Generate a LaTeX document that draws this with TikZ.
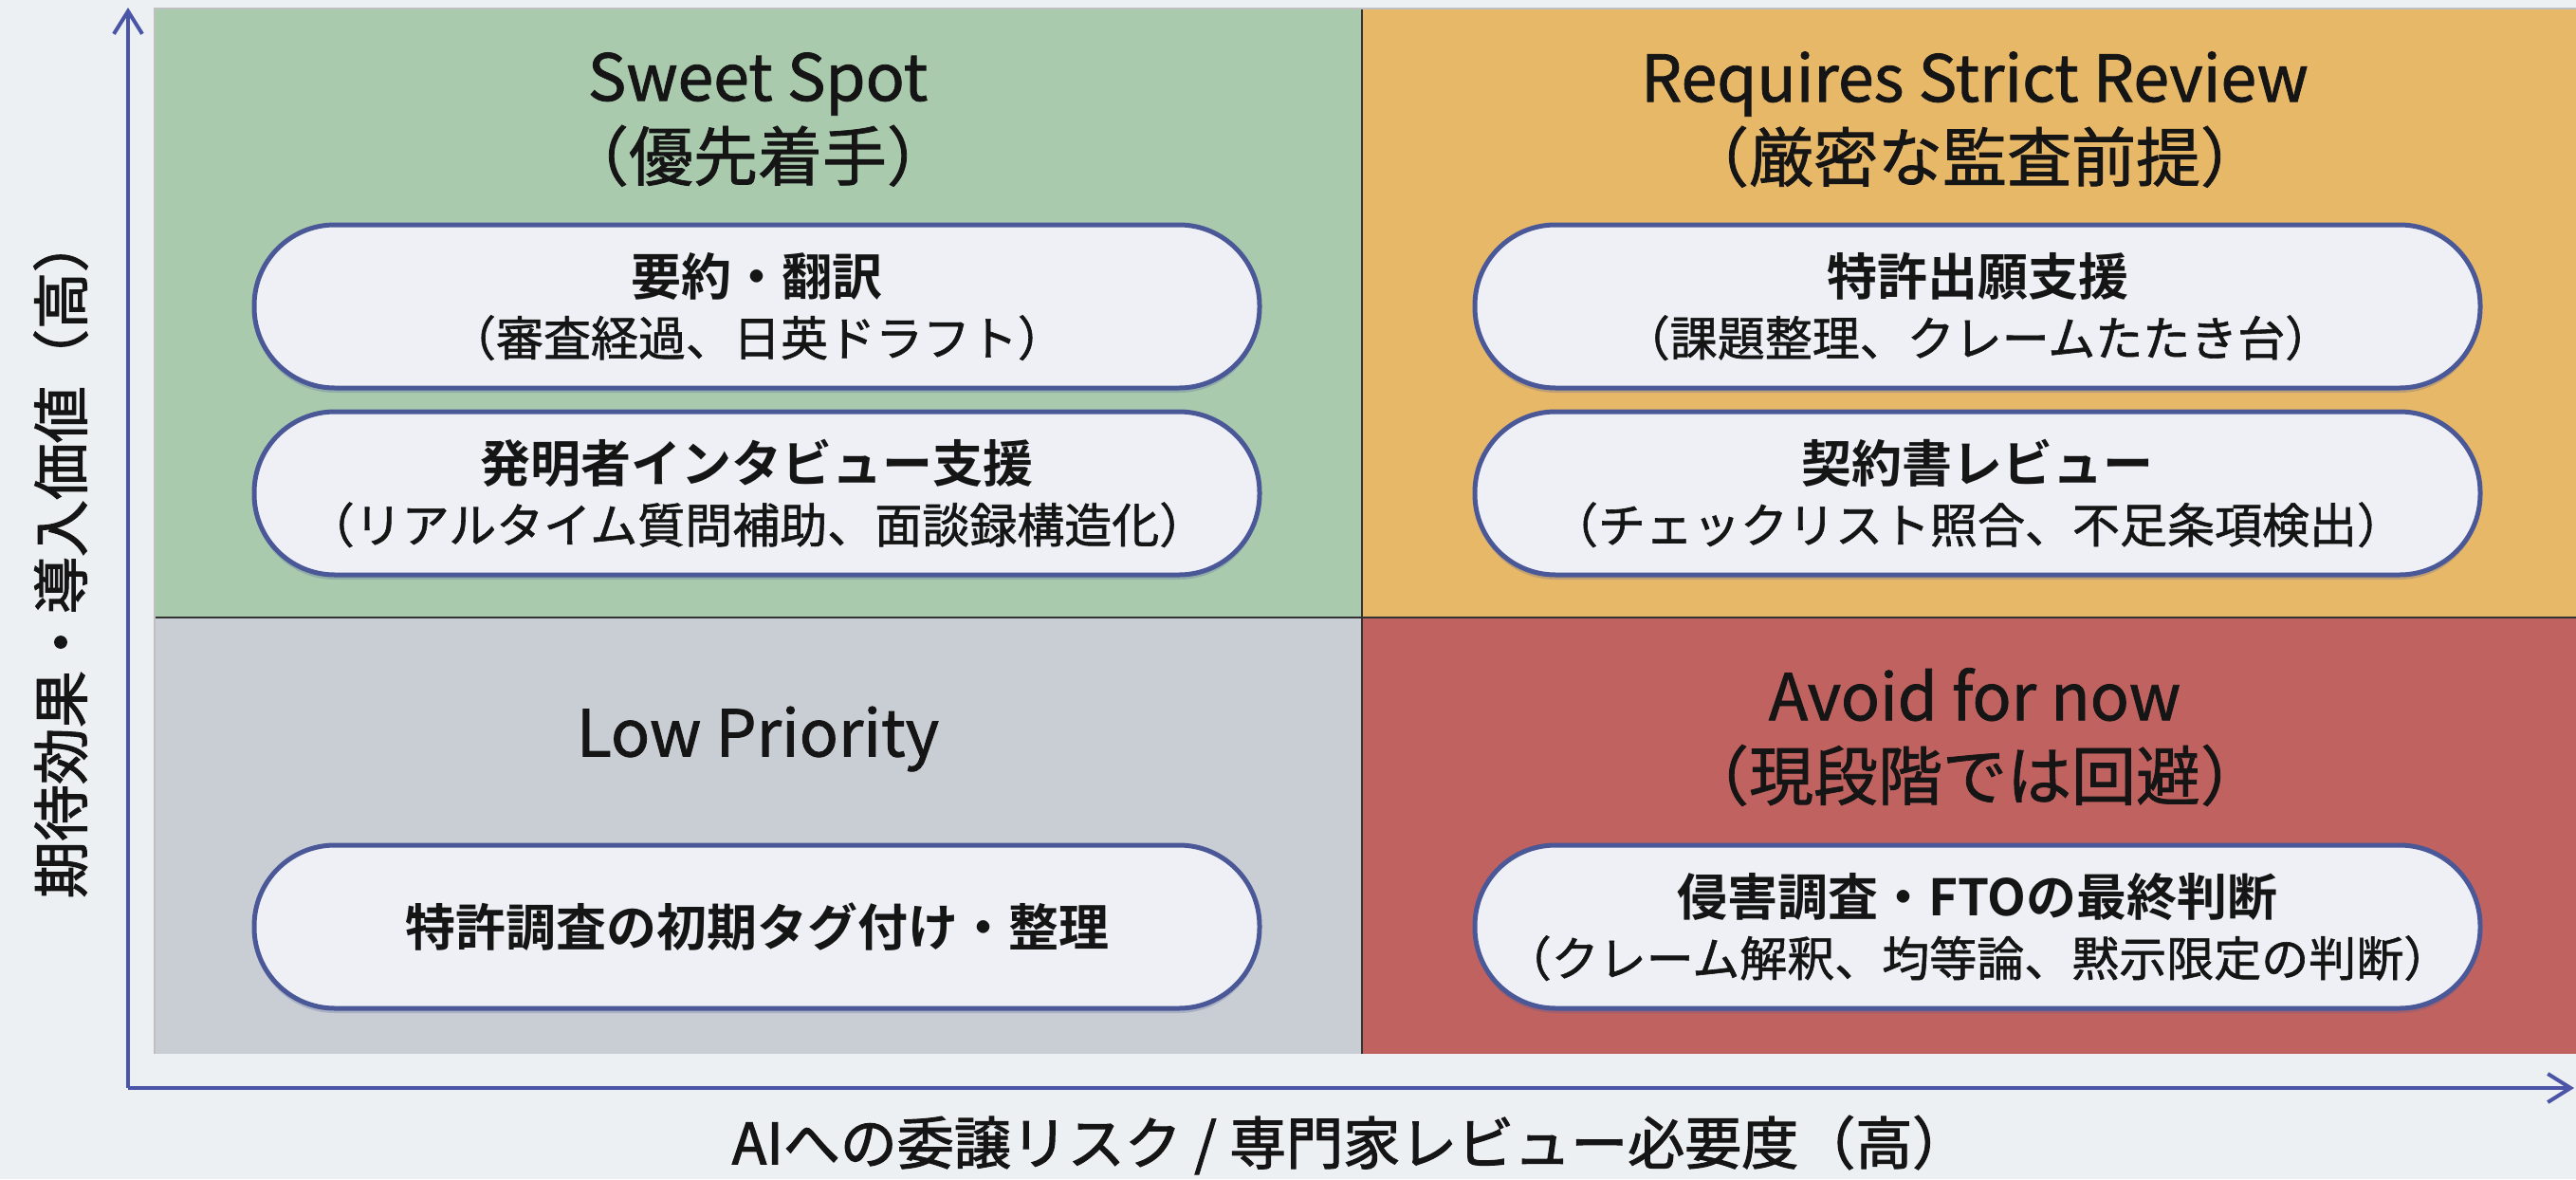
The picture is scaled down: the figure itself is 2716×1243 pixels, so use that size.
\documentclass[tikz,border=0pt]{standalone}
\usepackage{fontspec}
\setmainfont{Noto Sans CJK JP}[BoldFont={Noto Sans CJK JP Bold}]
\newfontfamily\medfont{Noto Sans CJK JP}[FakeBold=1.2]
\newfontfamily\heavyfont{Noto Sans CJK JP}[FakeBold=1.8]
\usetikzlibrary{arrows.meta,shadows}
\definecolor{bgc}{HTML}{EDF0F3}
\definecolor{qgreen}{HTML}{AACAAE}
\definecolor{qorange}{HTML}{E6B868}
\definecolor{qgray}{HTML}{C9CED4}
\definecolor{qred}{HTML}{C0625F}
\definecolor{pillfill}{HTML}{EEF0F5}
\definecolor{pillline}{HTML}{4A5898}
\definecolor{axisc}{HTML}{4A55A8}
\definecolor{txt}{HTML}{151515}
\newcommand{\pilltext}[2]{{\fontsize{53pt}{64pt}\selectfont\bfseries #1}\\{\fontsize{50pt}{64pt}\selectfont\medfont #2}}
\begin{document}
\begin{tikzpicture}[x=1pt,y=-1pt,
  quad/.style={inner sep=0pt, draw=none},
  qtitle/.style={align=center, text=txt, font=\fontsize{68pt}{84pt}\selectfont\medfont},
  pill/.style={draw=pillline, line width=5pt, fill=pillfill, rounded corners=85pt,
    minimum height=172pt, align=center, text=txt,
    font=\fontsize{50pt}{64pt}\selectfont,
    drop shadow={shadow xshift=0pt, shadow yshift=-5pt, opacity=0.25, fill=pillline}},
  axislabel/.style={text=txt, font=\fontsize{60pt}{64pt}\selectfont\heavyfont},
  axisline/.style={draw=axisc, line width=4pt, -{Straight Barb[length=24pt,width=30pt,line width=4pt]}}
]
\fill[bgc] (0,0) rectangle (2716,1243);
\useasboundingbox (0,0) rectangle (2716,1243);
% quadrants
\node[quad, fill=qgreen, minimum width=1273pt, minimum height=642pt] (q1) at (799.5,330) {};
\node[quad, fill=qorange, minimum width=1280pt, minimum height=642pt] (q2) at (2076,330) {};
\node[quad, fill=qgray, minimum width=1273pt, minimum height=460pt] (q3) at (799.5,881) {};
\node[quad, fill=qred, minimum width=1280pt, minimum height=460pt] (q4) at (2076,881) {};
\draw[black!80, line width=2.5pt] (q1.north east) -- (q3.south east);
\draw[black!80, line width=2.5pt] (q3.north west) -- (q4.north east);
\draw[black!25, line width=1.5pt] (q3.south west) -- (q1.north west) -- (q2.north east);
% titles
\node[qtitle] (t1) at (799,126) {Sweet Spot\\（優先着手）};
\node[qtitle] (t2) at (2082,126) {Requires Strict Review\\（厳密な監査前提）};
\node[qtitle] (t3) at (799,779) {Low Priority};
\node[qtitle] (t4) at (2082,777) {Avoid for now\\（現段階では回避）};
% pills
\node[pill, minimum width=1060pt] (p1) at (798,323) {\pilltext{要約・翻訳}{（審査経過、日英ドラフト）}};
\node[pill, minimum width=1060pt] (p2) at (798,520) {\pilltext{発明者インタビュー支援}{（リアルタイム質問補助、面談録構造化）}};
\node[pill, minimum width=1060pt] (p3) at (2085,323) {\pilltext{特許出願支援}{（課題整理、クレームたたき台）}};
\node[pill, minimum width=1060pt] (p4) at (2085,520) {\pilltext{契約書レビュー}{（チェックリスト照合、不足条項検出）}};
\node[pill, minimum width=1060pt, font=\fontsize{53pt}{64pt}\selectfont\bfseries] (p5) at (798,977) {特許調査の初期タグ付け・整理};
\node[pill, minimum width=1060pt] (p6) at (2085,977) {\pilltext{侵害調査・FTOの最終判断}{（クレーム解釈、均等論、黙示限定の判断）}};
% axes
\coordinate (origin) at (135,1147);
\coordinate (ytip) at (135,8);
\coordinate (xtip) at (2714,1147);
\draw[axisline] (origin) -- (ytip);
\draw[axisline] (origin) -- (xtip);
\node[axislabel, rotate=90] (ylab) at (64,587) {期待効果・導入価値（高）};
\node[axislabel] (xlab) at (1424,1207) {AIへの委譲リスク / 専門家レビュー必要度（高）};
\end{tikzpicture}
\end{document}
